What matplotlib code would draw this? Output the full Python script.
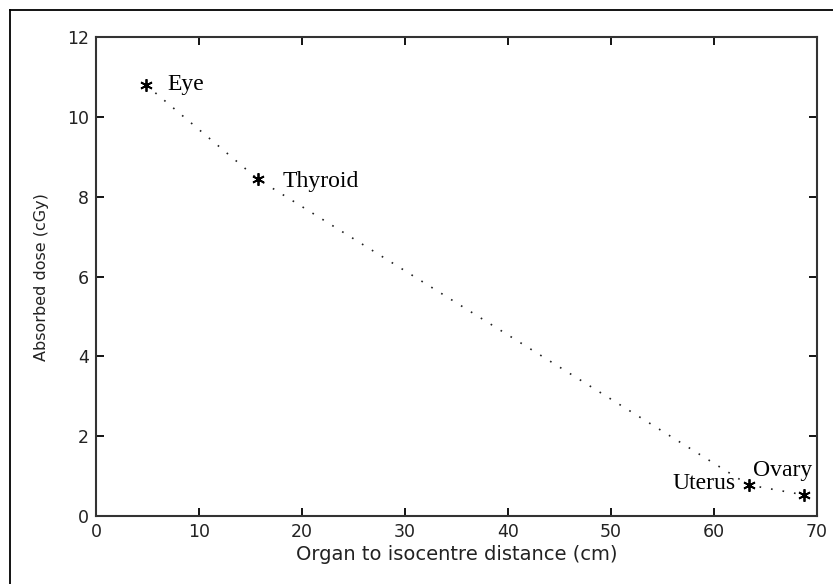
import matplotlib
matplotlib.use("Agg")
import matplotlib.pyplot as plt
from matplotlib.lines import Line2D

organs = ["Eye", "Thyroid", "Uterus", "Ovary"]
distance_cm = [4.9, 15.7, 63.4, 68.8]
dose_cgy = [10.8, 8.45, 0.77, 0.52]
x_ticks = [0, 10, 20, 30, 40, 50, 60, 70]
y_ticks = [0, 2, 4, 6, 8, 10, 12]

fig = plt.figure(figsize=(8.33, 5.84), dpi=100)
ax = fig.add_axes([0.1152, 0.117, 0.9804 - 0.1152, 0.9358 - 0.117])

ax.plot(distance_cm, dose_cgy, linestyle=(0, (1, 6)), color="#222222", linewidth=1.2,
        marker=(6, 2, 0), markersize=9, markeredgewidth=1.3,
        markeredgecolor="black")

ax.set_xlim(0, 70)
ax.set_ylim(0, 12)
ax.set_xticks(x_ticks)
ax.set_yticks(y_ticks)
ax.tick_params(direction="in", length=6, width=1.3, top=True, right=True,
               labelsize=12.5, pad=5)
for lab in ax.get_xticklabels() + ax.get_yticklabels():
    lab.set_family("DejaVu Sans")
    lab.set_color("#222222")
for s in ax.spines.values():
    s.set_linewidth(1.5)
    s.set_color("#333333")

ax.set_xlabel("Organ to isocentre distance (cm)", fontsize=14,
              family="DejaVu Sans", labelpad=3, color="#222222")
ax.set_ylabel("Absorbed dose (cGy)", fontsize=11.5, family="DejaVu Sans",
              labelpad=13, color="#222222")

offsets = {
    "Eye": ((21, 1), "left", "center"),
    "Thyroid": ((25, -3), "left", "center"),
    "Uterus": ((-13, 1), "right", "center"),
    "Ovary": ((8, 24), "right", "center"),
}
for name, xv, yv in zip(organs, distance_cm, dose_cgy):
    off, ha, va = offsets[name]
    ax.annotate(name, (xv, yv), xytext=off, textcoords="offset pixels",
                ha=ha, va=va, fontsize=17, family="Liberation Serif",
                color="black")

# outer frame (top and left lines)
fig.add_artist(Line2D([10 / 833, 10 / 833], [0, 1 - 10 / 584], transform=fig.transFigure,
                      color="black", linewidth=1.3))
fig.add_artist(Line2D([10 / 833, 1], [1 - 10 / 584, 1 - 10 / 584], transform=fig.transFigure,
                      color="black", linewidth=1.3))

fig.savefig("out.png", dpi=100)
